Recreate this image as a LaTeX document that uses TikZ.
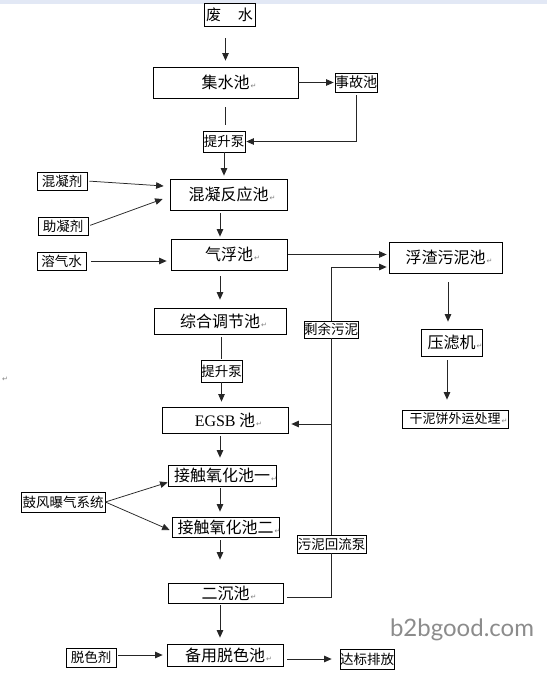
\documentclass[tikz,border=0pt]{standalone}
\usepackage{fontspec}
\newfontfamily\cjk{Noto Sans CJK SC}
\newfontfamily\latf{Liberation Serif}
\newfontfamily\dvs{DejaVu Sans}
\newfontfamily\wmf{Lato}
\usetikzlibrary{arrows.meta,calc}
\newcommand\retmk{\rlap{\hspace{1pt}\textcolor{gray}{\dvs\fontsize{7}{7}\selectfont ↵}}}
\definecolor{topband}{RGB}{226,232,245}
\begin{document}
\begin{tikzpicture}[x=1pt,y=-1pt,
  line/.style={draw=black!85, line width=0.75pt},
  arr/.style={line, -{Triangle[length=7.5pt,width=6.5pt]}},
  bigbox/.style={draw=black, line width=0.75pt, inner sep=0pt, font=\cjk\fontsize{16}{16}\selectfont},
  smallbox/.style={draw=black, line width=0.75pt, inner sep=0pt, font=\cjk\fontsize{13.5}{13.5}\selectfont}]
\useasboundingbox (0,0) rectangle (547,675);
\fill[white] (0,0) rectangle (547,675);
\fill[topband] (0,0) rectangle (547,3.5);

% nodes
\node[bigbox, minimum width=51pt, minimum height=23pt, font=\cjk\fontsize{15}{15}\selectfont] (fs) at (229.5,14.5) {废\hspace{17pt}水};
\node[bigbox, minimum width=145pt, minimum height=31pt] (jsc) at (225.5,82.5) {集水池\retmk};
\node[smallbox, minimum width=42pt, minimum height=19pt, font=\cjk\fontsize{14}{14}\selectfont] (sgc) at (356,82.5) {事故池};
\node[smallbox, minimum width=42pt, minimum height=21pt] (tsb1) at (224,141.5) {提升泵};
\node[smallbox, minimum width=50pt, minimum height=18pt] (hnj) at (62,181) {混凝剂};
\node[smallbox, minimum width=50pt, minimum height=18pt] (znj) at (63,226) {助凝剂};
\node[bigbox, minimum width=117pt, minimum height=31pt] (hnfy) at (228.5,194.5) {混凝反应池\retmk};
\node[bigbox, minimum width=116pt, minimum height=31pt] (qfc) at (229,254.5) {气浮池\retmk};
\node[smallbox, minimum width=49pt, minimum height=18pt] (rqs) at (61.5,261) {溶气水};
\node[bigbox, minimum width=113pt, minimum height=31pt] (fz) at (445.5,257.5) {浮渣污泥池\retmk};
\node[bigbox, minimum width=61pt, minimum height=27pt] (ylj) at (451.5,342.5) {压滤机\retmk};
\node[smallbox, minimum width=106pt, minimum height=18pt, font=\cjk\fontsize{13}{13}\selectfont] (gnb) at (455,419) {干泥饼外运处理\retmk};
\node[bigbox, minimum width=132pt, minimum height=26pt] (zh) at (220,321) {综合调节池\retmk};
\node[smallbox, minimum width=41pt, minimum height=22pt] (tsb2) at (221.5,371) {提升泵};
\node[bigbox, minimum width=126pt, minimum height=26pt] (egsb) at (225,420) {{\latf EGSB} 池\retmk};
\node[smallbox, minimum width=54pt, minimum height=17pt] (syw) at (331,329.5) {剩余污泥};
\node[bigbox, minimum width=108pt, minimum height=21pt] (jc1) at (222,475.5) {接触氧化池一\retmk};
\node[smallbox, minimum width=84pt, minimum height=20pt] (gf) at (63,502) {鼓风曝气系统};
\node[bigbox, minimum width=107pt, minimum height=20pt] (jc2) at (225.5,527) {接触氧化池二\retmk};
\node[bigbox, minimum width=115pt, minimum height=20pt] (ec) at (225.5,593) {二沉池\retmk};
\node[smallbox, minimum width=69pt, minimum height=18pt] (wnhl) at (331.5,544) {污泥回流泵};
\node[bigbox, minimum width=116pt, minimum height=22pt] (by) at (225,655) {备用脱色池\retmk};
\node[smallbox, minimum width=50pt, minimum height=19pt] (tsj) at (91,657.5) {脱色剂};
\node[smallbox, minimum width=54pt, minimum height=20pt] (db) at (367,659) {达标排放};
\node[text=gray, font=\dvs\fontsize{7}{7}\selectfont] (stray) at (5,379) {↵};
\node[text=black!45, font=\wmf\fontsize{24}{24}\selectfont, inner sep=0pt] (wm) at (462,630) {b2bgood.com};

\coordinate (sp) at (220,0);

% connectors
\draw[arr, shorten <=12pt, shorten >=6pt] (jsc.north |- fs.south) -- (jsc.north);
\draw[arr, shorten >=1pt] (jsc.east) -- (sgc.west);
\draw[line, shorten <=9pt, shorten >=6pt] (jsc.south) -- (jsc.south |- tsb1.north);
\draw[arr, shorten <=3pt, shorten >=1pt] (sgc.south) |- (tsb1.east);
\draw[arr, shorten >=3pt] (tsb1.south) -- (tsb1.south |- hnfy.north);
\draw[arr, shorten <=2pt] (hnj.east) -- ($(hnfy.west)+(-6,-8.5)$);
\draw[arr, shorten <=2pt] (znj.east) -- ($(hnfy.west)+(-7,4.5)$);
\draw[arr, shorten <=3pt, shorten >=2pt] (hnfy.south -| sp) -- (qfc.north -| sp);
\draw[arr, shorten <=5pt, shorten >=4pt] (rqs.east) -- (rqs.east -| qfc.west);
\draw[arr, shorten <=1pt, shorten >=2pt] (qfc.east) -- (qfc.east -| fz.west);
\draw[arr, shorten <=6pt, shorten >=8pt] (qfc.south -| sp) -- (zh.north -| sp);
\draw[line, shorten <=3pt, shorten >=1pt] (tsb2.north |- zh.south) -- (tsb2.north);
\draw[arr, shorten >=5pt] (tsb2.south) -- (tsb2.south |- egsb.north);
\draw[arr, shorten <=3pt, shorten >=7pt] (egsb.south -| sp) -- (jc1.north -| sp);
\draw[arr] (gf.east) -- ($(jc1.south west)+(0,-4)$);
\draw[arr] (gf.east) -- ($(jc2.west)+(-2,3)$);
\draw[arr, shorten <=2pt, shorten >=5pt] (jc1.south -| sp) -- (jc2.north -| sp);
\draw[arr, shorten <=3pt, shorten >=23pt] (jc2.south -| sp) -- (ec.north -| sp);
\draw[arr, shorten <=2pt, shorten >=6pt] (ec.south -| sp) -- (by.north -| sp);
\draw[arr, shorten <=2pt, shorten >=4pt] (tsj.east |- by.west) -- (by.west);
\draw[arr, shorten <=4pt, shorten >=8pt] (by.east |- db.west) -- (db.west);
\draw[arr, shorten <=9pt, shorten >=7pt] ([xshift=2.5pt]fz.south) -- ([xshift=2.5pt]fz.south |- ylj.north);
\draw[arr, shorten <=4pt, shorten >=10pt] ([xshift=-4.5pt]ylj.south) -- ([xshift=-4.5pt]ylj.south |- gnb.north);
% sludge return
\draw[line, shorten <=4pt] ([yshift=-4pt]ec.east) -- ([yshift=-4pt]ec.east -| wnhl.south) -- (wnhl.south);
\draw[line] (wnhl.north) -- (wnhl.north |- syw.south);
\coordinate (j1) at ($(egsb.east -| syw.south)+(0,4)$);
\draw[arr, shorten >=3pt] (j1) -- (j1 -| egsb.east);
\draw[arr, shorten >=2pt] (syw.north) |- ($(fz.west)+(0,9.5)$);
\end{tikzpicture}
\end{document}
